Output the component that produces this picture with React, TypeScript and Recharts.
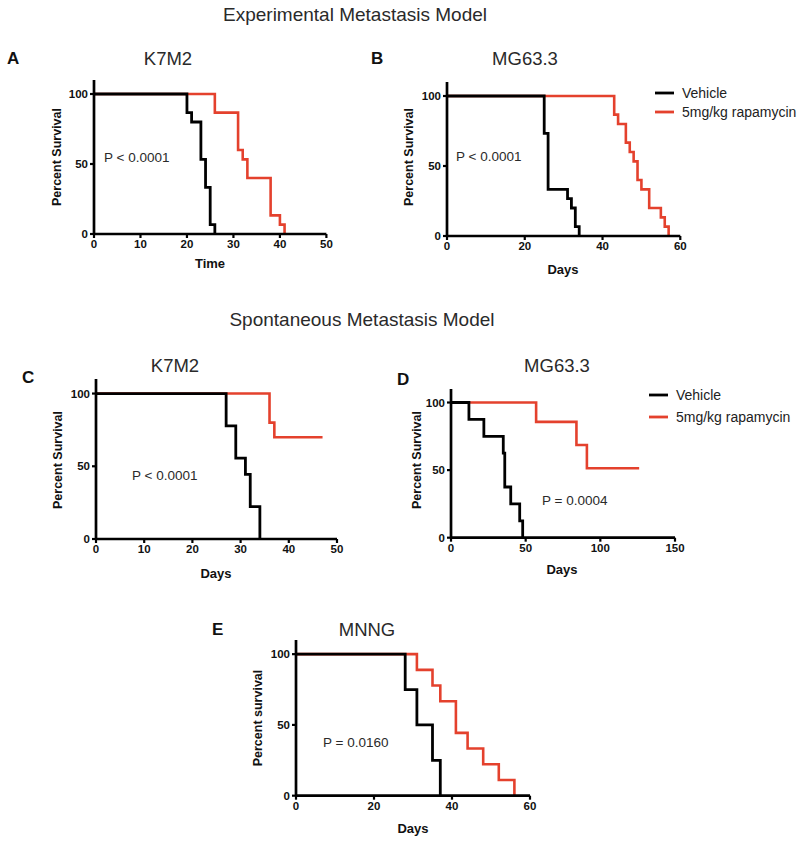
import React from "react";
import { LineChart, Line, XAxis, YAxis, Legend } from "recharts";

// survival curves (days, percent surviving)
const aVehDays = [0, 20, 21, 23, 24, 25, 26];
const aVehSurv = [100, 86.7, 80, 53.3, 33.3, 6.7, 0];
const aRapDays = [0, 26, 31, 32, 33, 38, 40, 41];
const aRapSurv = [100, 86.7, 60, 53.3, 40, 13.3, 6.7, 0];

const bVehDays = [0, 25, 26, 31, 32, 33, 34];
const bVehSurv = [100, 73.3, 33.3, 26.7, 20, 6.7, 0];
const bRapDays = [0, 43, 44, 46, 47, 48, 49, 50, 52, 55, 56, 57];
const bRapSurv = [100, 86.7, 80, 66.7, 60, 53.3, 40, 33.3, 20, 13.3, 6.7, 0];

const cVehDays = [0, 27, 29, 31, 32, 34];
const cVehSurv = [100, 77.8, 55.6, 44.4, 22.2, 0];
const cRapDays = [0, 36, 37, 47];
const cRapSurv = [100, 80, 70, 70];

const dVehDays = [0, 12, 22, 35, 36, 40, 46, 48];
const dVehSurv = [100, 87.5, 75, 62.5, 37.5, 25, 12.5, 0];
const dRapDays = [0, 57, 84, 91, 126];
const dRapSurv = [100, 85.7, 68.6, 51.4, 51.4];

const eVehDays = [0, 28, 31, 35, 37];
const eVehSurv = [100, 75, 50, 25, 0];
const eRapDays = [0, 31, 35, 37, 41, 44, 48, 52, 56];
const eRapSurv = [100, 88.9, 77.8, 66.7, 44.4, 33.3, 22.2, 11.1, 0];

const ticks50 = [0, 10, 20, 30, 40, 50];
const ticks60 = [0, 20, 40, 60];
const ticks150 = [0, 50, 100, 150];
const yTicks = [0, 50, 100];

const SERIES = ["Vehicle", "5mg/kg rapamycin"];
const RED = "#e4412d";
const FONT = "'Liberation Sans', Arial, Helvetica, sans-serif";

const toPts = (days: number[], surv: number[]) => days.map((t, i) => ({ t, s: surv[i] }));

type PanelProps = {
  left: number; top: number; w: number; h: number; rightPad?: number;
  xMax: number; xTicks: number[];
  veh: { t: number; s: number }[]; rap: { t: number; s: number }[];
  legend?: { left: number; top: number; row: number };
};

const LegendBox = ({ payload, row }: any) => {
  const items = [...(payload ?? [])].reverse();
  return (
    <div style={{ fontFamily: FONT, fontSize: 14, color: "#222" }}>
      {items.map((p: any) => (
        <div key={p.value} style={{ display: "flex", alignItems: "center", height: row, whiteSpace: "nowrap" }}>
          <svg width={19} height={4} style={{ marginRight: 8 }}>
            <line x1={0} y1={2} x2={19} y2={2} stroke={p.color} strokeWidth={2.8} />
          </svg>
          {p.value}
        </div>
      ))}
    </div>
  );
};

function Panel({ left, top, w, h, rightPad = 12, xMax, xTicks, veh, rap, legend }: PanelProps) {
  const padL = 60, padT = 12, padB = 30;
  const tick = { fontSize: 11.5, fontWeight: 700, fill: "#111", fontFamily: FONT };
  return (
    <div style={{ position: "absolute", left: left - padL, top: top - padT }}>
      <LineChart width={w + padL + rightPad} height={h + padT + padB}
                 margin={{ top: padT, right: rightPad, bottom: 0, left: padL - 40 }}>
        <XAxis type="number" dataKey="t" domain={[0, xMax]} ticks={xTicks} allowDataOverflow
               height={padB} tickSize={4} tickMargin={2} tick={tick}
               axisLine={{ stroke: "#000", strokeWidth: 2.7 }} tickLine={{ stroke: "#000", strokeWidth: 2.2 }} />
        <YAxis type="number" dataKey="s" domain={[0, 110]} ticks={yTicks} allowDataOverflow
               width={40} tickSize={4} tickMargin={2} tick={tick}
               axisLine={{ stroke: "#000", strokeWidth: 2.7 }} tickLine={{ stroke: "#000", strokeWidth: 2.2 }} />
        <Line data={rap} dataKey="s" name={SERIES[1]} type="stepAfter" stroke={RED} strokeWidth={2.6}
              dot={false} activeDot={false} isAnimationActive={false} legendType="line" />
        <Line data={veh} dataKey="s" name={SERIES[0]} type="stepAfter" stroke="#000" strokeWidth={2.8}
              dot={false} activeDot={false} isAnimationActive={false} legendType="line" />
        {legend && (
          <Legend layout="vertical" align="center" verticalAlign="middle"
                  wrapperStyle={{ left: legend.left, top: legend.top, width: 160 }}
                  content={(p: any) => <LegendBox payload={p.payload} row={legend.row} />} />
        )}
      </LineChart>
    </div>
  );
}

const T = ({ x, y, size, bold, anchor = "middle", children, rot }: any) => (
  <text x={x} y={y} fontSize={size} fontWeight={bold ? 700 : 400} textAnchor={anchor}
        dominantBaseline="central" fill={bold ? "#111" : "#2a2a2a"} fontFamily={FONT}
        transform={rot ? `rotate(-90 ${x} ${y})` : undefined}>
    {children}
  </text>
);

export default function App() {
  return (
    <div style={{ position: "absolute", left: 0, top: 0, width: 800, height: 841, background: "#fff" }}>
      <Panel left={94.3} top={80} w={232.4} h={154} xMax={50} xTicks={ticks50}
             veh={toPts(aVehDays, aVehSurv)} rap={toPts(aRapDays, aRapSurv)} />
      <Panel left={446.7} top={81.7} w={233.3} h={154} xMax={60} xTicks={ticks60} rightPad={120}
             veh={toPts(bVehDays, bVehSurv)} rap={toPts(bRapDays, bRapSurv)}
             legend={{ left: 268.3, top: 13.5, row: 19 }} />
      <Panel left={95.7} top={379} w={241} h={160} xMax={50} xTicks={ticks50}
             veh={toPts(cVehDays, cVehSurv)} rap={toPts(cRapDays, cRapSurv)} />
      <Panel left={450.7} top={389} w={224} h={148.7} xMax={150} xTicks={ticks150} rightPad={125}
             veh={toPts(dVehDays, dVehSurv)} rap={toPts(dRapDays, dRapSurv)}
             legend={{ left: 258.3, top: 7, row: 21.7 }} />
      <Panel left={296} top={640} w={234} h={155.7} xMax={60} xTicks={ticks60}
             veh={toPts(eVehDays, eVehSurv)} rap={toPts(eRapDays, eRapSurv)} />

      <svg width={800} height={841} style={{ position: "absolute", left: 0, top: 0, pointerEvents: "none" }}>
        <T x={355} y={14} size={19}>Experimental Metastasis Model</T>
        <T x={362} y={319} size={19}>Spontaneous Metastasis Model</T>

        <T x={7} y={58} size={17} bold anchor="start">A</T>
        <T x={168} y={58} size={18.5}>K7M2</T>
        <T x={371} y={58} size={17} bold anchor="start">B</T>
        <T x={525} y={58} size={18.5}>MG63.3</T>
        <T x={22} y={377} size={17} bold anchor="start">C</T>
        <T x={175} y={365} size={18.5}>K7M2</T>
        <T x={397} y={379} size={17} bold anchor="start">D</T>
        <T x={557} y={365} size={18.5}>MG63.3</T>
        <T x={212} y={629} size={17} bold anchor="start">E</T>
        <T x={367} y={629} size={18.5}>MNNG</T>

        <T x={104} y={157} size={13.5} anchor="start">P &lt; 0.0001</T>
        <T x={456} y={156} size={13.5} anchor="start">P &lt; 0.0001</T>
        <T x={132} y={475} size={13.5} anchor="start">P &lt; 0.0001</T>
        <T x={542} y={500} size={13.5} anchor="start">P = 0.0004</T>
        <T x={323} y={742} size={13.5} anchor="start">P = 0.0160</T>

        <T x={57} y={157} size={12.5} bold rot>Percent Survival</T>
        <T x={409} y={157} size={12.5} bold rot>Percent Survival</T>
        <T x={58} y={460} size={12.5} bold rot>Percent Survival</T>
        <T x={417} y={460} size={12.5} bold rot>Percent Survival</T>
        <T x={258} y={718} size={12.5} bold rot>Percent survival</T>

        <T x={210} y={263} size={13} bold>Time</T>
        <T x={563} y={269} size={13} bold>Days</T>
        <T x={216} y={573} size={13} bold>Days</T>
        <T x={562} y={569} size={13} bold>Days</T>
        <T x={413} y={828} size={13} bold>Days</T>
      </svg>
    </div>
  );
}
